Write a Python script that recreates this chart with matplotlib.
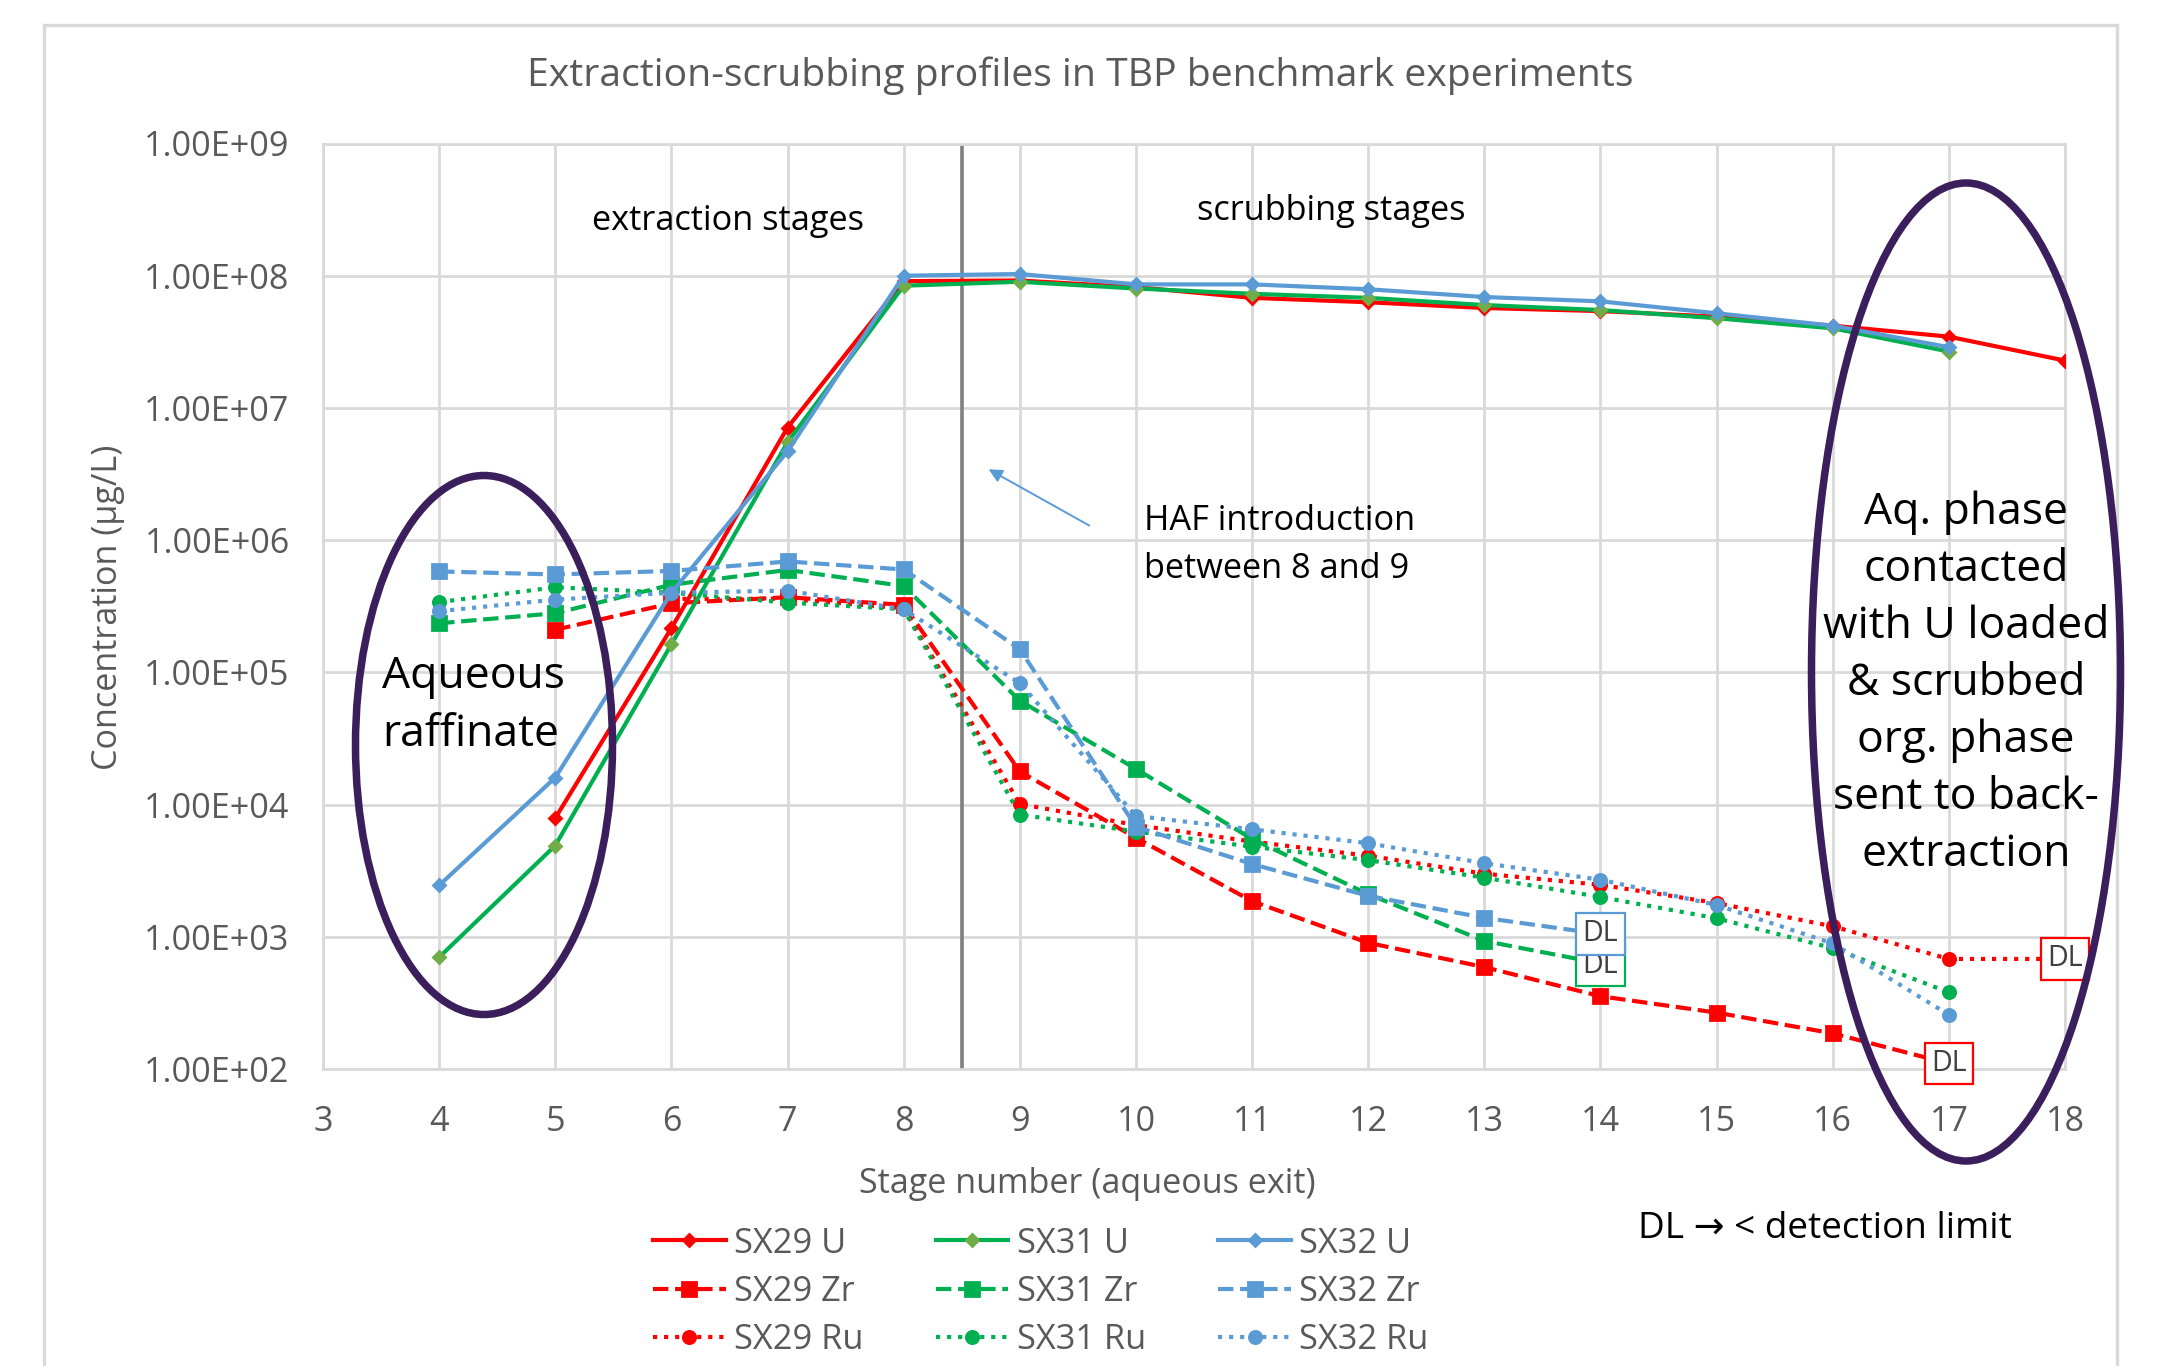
import numpy as np
import matplotlib
matplotlib.use('Agg')
import matplotlib.pyplot as plt
from matplotlib.patches import Ellipse, Rectangle
from matplotlib.ticker import FuncFormatter, FixedLocator

plt.rcParams['font.family'] = ['Open Sans', 'DejaVu Sans']

# data
nan = np.nan
stages = [4, 5, 6, 7, 8, 9, 10, 11, 12, 13, 14, 15, 16, 17, 18]
sx29_u = [nan, 7.9e3, 2.16e5, 7.1e6, 9.1e7, 9.2e7, 8.2e7, 6.8e7, 6.3e7, 5.7e7, 5.4e7, 4.9e7, 4.19e7, 3.46e7, 2.28e7]
sx31_u = [7.0e2, 4.9e3, 1.63e5, 5.5e6, 8.4e7, 9.0e7, 8.0e7, 7.3e7, 6.8e7, 6.0e7, 5.5e7, 4.77e7, 4.0e7, 2.67e7, nan]
sx32_u = [2.45e3, 1.6e4, 4.0e5, 4.7e6, 1.0e8, 1.03e8, 8.6e7, 8.6e7, 7.9e7, 6.9e7, 6.4e7, 5.2e7, 4.19e7, 2.88e7, nan]
sx29_zr = [nan, 2.1e5, 3.33e5, 3.7e5, 3.24e5, 1.78e4, 5.6e3, 1.86e3, 9.0e2, 5.9e2, 3.55e2, 2.67e2, 1.86e2, 1.1e2, nan]
sx31_zr = [2.35e5, 2.8e5, 4.6e5, 5.95e5, 4.5e5, 6.1e4, 1.86e4, 5.5e3, 2.1e3, 9.3e2, 6.3e2, nan, nan, nan, nan]
sx32_zr = [5.8e5, 5.5e5, 5.85e5, 6.9e5, 6.0e5, 1.5e5, 6.8e3, 3.55e3, 2.04e3, 1.39e3, 1.05e3, nan, nan, nan, nan]
sx29_ru = [nan, nan, 3.6e5, 3.6e5, 3.05e5, 1.01e4, 7.0e3, 5.25e3, 4.1e3, 3.0e3, 2.47e3, 1.8e3, 1.2e3, 6.8e2, 6.8e2]
sx31_ru = [3.4e5, 4.4e5, 4.0e5, 3.37e5, 3.0e5, 8.4e3, 6.25e3, 4.8e3, 3.8e3, 2.8e3, 2.0e3, 1.38e3, 8.2e2, 3.8e2, nan]
sx32_ru = [2.9e5, 3.55e5, 4.0e5, 4.15e5, 3.0e5, 8.3e4, 8.2e3, 6.5e3, 5.1e3, 3.6e3, 2.7e3, 1.74e3, 8.9e2, 2.57e2, nan]

# points below detection limit (stage, value, colour)
dl_points = [(17, 1.1e2, '#FF0000'), (18, 6.8e2, '#FF0000'), (14, 6.1e2, '#00B050'), (14, 1.05e3, '#5B9BD5')]

red, green, blue = '#FF0000', '#00B050', '#5B9BD5'
gray_txt = '#595959'
W, H = 2163, 1366

def fx(px):
    return px / W

def fy(py):
    return 1 - py / H

fig = plt.figure(figsize=(W / 200, H / 200), dpi=200)
ax = fig.add_axes([fx(323), fy(1069), fx(2065) - fx(323), fy(143.5) - fy(1069)])

# outer chart border
fig.patches.append(Rectangle((fx(44), -0.02), fx(2117) - fx(44), fy(25) + 0.02,
                             transform=fig.transFigure, fill=False, ec='#D9D9D9', lw=1.2))

series = [
    ('SX29 U', sx29_u, red, '-', 'D', 3.2, red),
    ('SX29 Zr', sx29_zr, red, '--', 's', 5.2, red),
    ('SX29 Ru', sx29_ru, red, ':', 'o', 4.4, red),
    ('SX31 U', sx31_u, green, '-', 'D', 3.2, '#70AD47'),
    ('SX31 Zr', sx31_zr, green, '--', 's', 5.2, green),
    ('SX31 Ru', sx31_ru, green, ':', 'o', 4.4, green),
    ('SX32 U', sx32_u, blue, '-', 'D', 3.2, blue),
    ('SX32 Zr', sx32_zr, blue, '--', 's', 5.2, blue),
    ('SX32 Ru', sx32_ru, blue, ':', 'o', 4.4, blue),
]
for name, vals, col, ls, mk, ms, mcol in series:
    ax.plot(stages, vals, color=col, ls=ls, lw=1.5, marker=mk, ms=ms,
            mfc=mcol, mec=mcol, label=name, zorder=3)

ax.set_yscale('log')
ax.set_xlim(3, 18)
ax.set_ylim(1e2, 1e9)
ax.xaxis.set_major_locator(FixedLocator(range(3, 19)))
ax.yaxis.set_major_locator(FixedLocator([10.0 ** k for k in range(2, 10)]))
ax.yaxis.set_minor_locator(FixedLocator([]))
ax.yaxis.set_major_formatter(FuncFormatter(lambda v, p: f'{v:.2E}'))
ax.grid(True, color='#D9D9D9', lw=1.0)
ax.set_axisbelow(True)
for s in ax.spines.values():
    s.set_color('#D9D9D9')
    s.set_linewidth(1.0)
ax.tick_params(length=0, labelsize=12.3, labelcolor=gray_txt)
ax.tick_params(axis='y', pad=12)
ax.tick_params(axis='x', pad=13)
ax.axvline(8.5, color='#7F7F7F', lw=1.3, zorder=2)

# DL boxes
for st, v, col in dl_points:
    ax.text(st, v, 'DL', ha='center', va='center', fontsize=10.3, color='#404040',
            clip_on=False, zorder=6,
            bbox=dict(boxstyle='square,pad=0.22', fc='white', ec=col, lw=0.8))

# HAF arrow
ax.annotate('', xy=(8.69, 3.6e6), xytext=(9.64, 1.23e6),
            arrowprops=dict(arrowstyle='-|>', color=blue, lw=0.7, mutation_scale=10), zorder=4)

fig.text(fx(1080), fy(76), 'Extraction-scrubbing profiles in TBP benchmark experiments',
         ha='center', va='center', fontsize=14.1, color=gray_txt)
fig.text(fx(108), fy(607), 'Concentration (µg/L)', rotation=90, ha='center', va='center',
         fontsize=12.3, color=gray_txt)
fig.text(fx(1087), fy(1184), 'Stage number (aqueous exit)', ha='center', va='center',
         fontsize=12.3, color=gray_txt)

fig.text(fx(728), fy(221), 'extraction stages', ha='center', va='center', fontsize=12.4,
         color='black')
fig.text(fx(1331), fy(211), 'scrubbing stages', ha='center', va='center', fontsize=12.4,
         color='black')
fig.text(fx(1144), fy(545), 'HAF introduction\nbetween 8 and 9', ha='left', va='center',
         fontsize=12.4, color='black', linespacing=1.5)
fig.text(fx(382), fy(706), 'Aqueous\nraffinate', ha='left', va='center', fontsize=16,
         color='black', linespacing=1.39)
fig.text(fx(1966), fy(684), 'Aq. phase\ncontacted\nwith U loaded\n& scrubbed\norg. phase\nsent to back-\nextraction',
         ha='center', va='center', fontsize=16, color='black', linespacing=1.375)
fig.text(fx(1825), fy(1229), 'DL → < detection limit', ha='center', va='center', fontsize=13.3,
         color='black')

# ellipses
fig.patches.append(Ellipse((fx(484), fy(745)), 257 / W, 539 / H, transform=fig.transFigure,
                           fill=False, ec='#3B1E5C', lw=2.7, zorder=7))
fig.patches.append(Ellipse((fx(1966), fy(672)), 309 / W, 978 / H, transform=fig.transFigure,
                           fill=False, ec='#3B1E5C', lw=2.7, zorder=7))

leg = fig.legend(loc='center', bbox_to_anchor=(fx(1041), fy(1292)), ncol=3, frameon=False,
                 fontsize=12.4, handlelength=2.1, columnspacing=2.1, labelspacing=0.42,
                 handletextpad=0.25)
for t in leg.get_texts():
    t.set_color(gray_txt)

fig.savefig('out.png', dpi=200, facecolor='white')
